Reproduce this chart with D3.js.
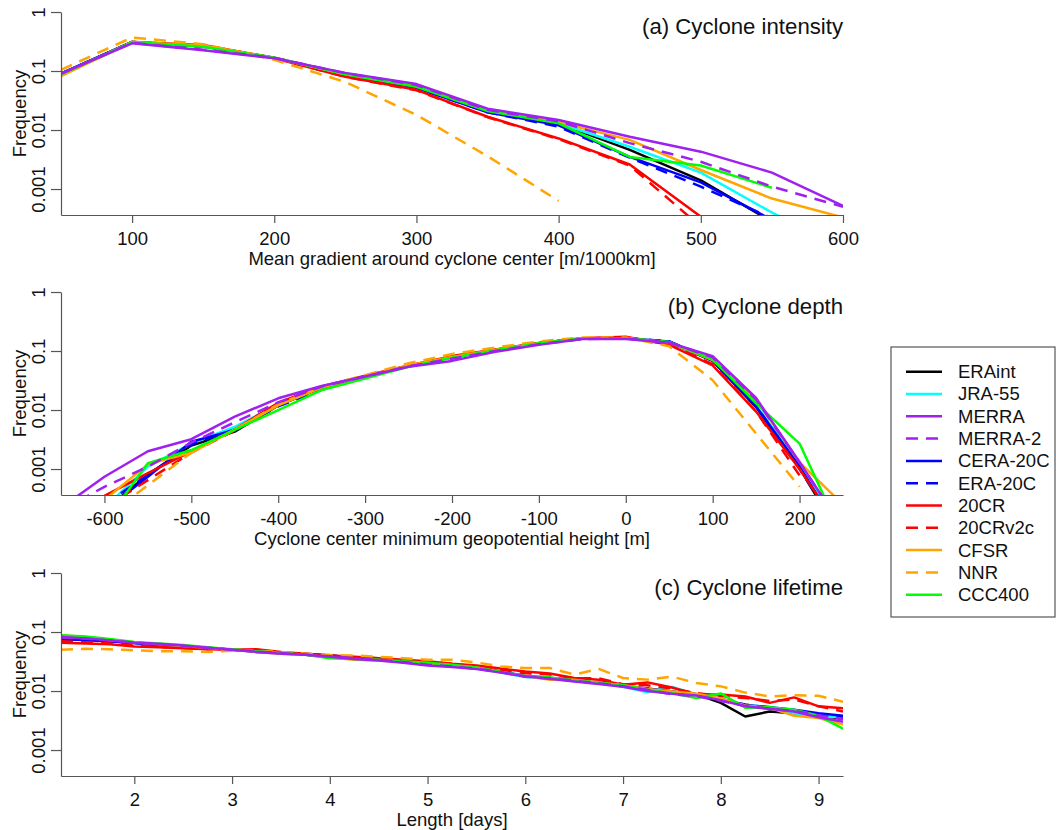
<!DOCTYPE html>
<html>
<head>
<meta charset="utf-8">
<script src="https://cdn.jsdelivr.net/npm/d3@7"></script>
<style>
body { margin: 0; background: #fff; }
svg text { font-family: "Liberation Sans", Arial, sans-serif; fill: #111; }
</style>
</head>
<body>
<div id="chart"></div>
<script>
var w = 1056;
var h = 830;
var left = 61;
var right = 843;
var panelH = 203;
var tops = [12, 292, 573];
var fontSize = "18.5px";

// datasets, same order as the legend
var names = ["ERAint", "JRA-55", "MERRA", "MERRA-2", "CERA-20C", "ERA-20C", "20CR", "20CRv2c", "CFSR", "NNR", "CCC400"];
var colors = ["#000000", "#00FFFF", "#A020F0", "#A020F0", "#0000FF", "#0000FF", "#FF0000", "#FF0000", "#FFA500", "#FFA500", "#00FF00"];
var dashed = [false, false, false, true, false, true, false, true, false, true, false];
var drawOrder = [0, 1, 4, 5, 6, 7, 8, 9, 10, 3, 2];

var yTicks = [1, 0.1, 0.01, 0.001];
var yTickLabels = ["1", "0.1", "0.01", "0.001"];

// (a) cyclone intensity
var gradient = [50, 100, 150, 200, 250, 300, 350, 400, 450, 500, 550, 600];
var gradientTicks = [100, 200, 300, 400, 500, 600];
var intensityFreq = [
  [0.09, 0.31, 0.265, 0.168, 0.088, 0.055, 0.021, 0.013, 0.0046, 0.0014, 0.00028, null],
  [0.09, 0.31, 0.265, 0.168, 0.088, 0.055, 0.022, 0.013, 0.0052, 0.0019, 0.0004, 0.0001],
  [0.09, 0.295, 0.225, 0.165, 0.093, 0.06, 0.023, 0.0148, 0.0077, 0.0043, 0.0019, 0.00052],
  [0.09, 0.30, 0.23, 0.167, 0.092, 0.058, 0.022, 0.014, 0.006, 0.0029, 0.0011, 0.0005],
  [0.09, 0.31, 0.26, 0.167, 0.087, 0.052, 0.020, 0.012, 0.0035, 0.0013, 0.0003, null],
  [0.09, 0.31, 0.26, 0.167, 0.086, 0.052, 0.020, 0.0114, 0.0034, 0.0011, 0.00032, null],
  [0.088, 0.31, 0.275, 0.165, 0.08, 0.048, 0.0168, 0.0072, 0.0026, 0.00034, null, null],
  [0.088, 0.31, 0.275, 0.165, 0.08, 0.047, 0.0165, 0.007, 0.0025, 0.00023, null, null],
  [0.082, 0.31, 0.27, 0.168, 0.088, 0.055, 0.022, 0.0135, 0.0068, 0.0021, 0.00069, 0.00033],
  [0.105, 0.37, 0.285, 0.155, 0.065, 0.018, 0.0036, 0.00063, null, null, null, null],
  [0.088, 0.31, 0.258, 0.168, 0.088, 0.054, 0.021, 0.013, 0.0035, 0.0025, 0.00105, null]
];

// (b) cyclone depth
var depth = [-650, -600, -550, -500, -450, -400, -350, -300, -250, -200, -150, -100, -50, 0, 50, 100, 150, 200, 250];
var depthTicks = [-600, -500, -400, -300, -200, -100, 0, 100, 200];
var depthFreq = [
  [null, 0.0002, 0.0008, 0.0025, 0.0043, 0.012, 0.024, 0.037, 0.056, 0.078, 0.104, 0.135, 0.162, 0.165, 0.14, 0.068, 0.0112, 0.00105, 0.00006],
  [null, 0.00022, 0.0011, 0.0027, 0.0052, 0.0125, 0.025, 0.037, 0.056, 0.078, 0.104, 0.135, 0.162, 0.165, 0.142, 0.07, 0.012, 0.0012, 0.00008],
  [0.00022, 0.00074, 0.002, 0.0032, 0.0077, 0.0158, 0.0256, 0.037, 0.054, 0.068, 0.097, 0.127, 0.16, 0.16, 0.138, 0.082, 0.016, 0.0013, 0.0001],
  [0.0002, 0.0005, 0.0011, 0.0028, 0.0062, 0.0135, 0.025, 0.037, 0.055, 0.074, 0.1, 0.13, 0.16, 0.162, 0.14, 0.078, 0.015, 0.0013, 0.0001],
  [null, 0.0002, 0.00074, 0.0029, 0.0046, 0.012, 0.024, 0.036, 0.056, 0.078, 0.104, 0.135, 0.163, 0.165, 0.145, 0.069, 0.0115, 0.0011, 0.00007],
  [null, 0.00025, 0.0008, 0.0026, 0.0047, 0.0115, 0.022, 0.036, 0.055, 0.078, 0.104, 0.135, 0.163, 0.165, 0.146, 0.07, 0.0118, 0.001, 0.00007],
  [null, 0.00035, 0.00085, 0.002, 0.0047, 0.0133, 0.025, 0.038, 0.057, 0.082, 0.106, 0.137, 0.165, 0.175, 0.127, 0.057, 0.0094, 0.001, 0.00008],
  [null, 0.00022, 0.00065, 0.0019, 0.0045, 0.0125, 0.024, 0.037, 0.056, 0.08, 0.105, 0.136, 0.164, 0.17, 0.13, 0.06, 0.0095, 0.00078, null],
  [null, 0.0003, 0.0012, 0.0019, 0.0047, 0.012, 0.024, 0.037, 0.057, 0.079, 0.105, 0.136, 0.165, 0.165, 0.14, 0.07, 0.015, 0.0013, 0.00025],
  [null, 0.00015, 0.00053, 0.0019, 0.0046, 0.0125, 0.025, 0.039, 0.062, 0.089, 0.115, 0.145, 0.17, 0.17, 0.12, 0.032, 0.004, 0.0005, null],
  [null, 0.00012, 0.00126, 0.0021, 0.0046, 0.01, 0.0218, 0.034, 0.054, 0.077, 0.103, 0.135, 0.163, 0.165, 0.142, 0.072, 0.013, 0.0027, 0.00007]
];

// (c) cyclone lifetime
var days = [1.25, 1.5, 1.75, 2, 2.25, 2.5, 2.75, 3, 3.25, 3.5, 3.75, 4, 4.25, 4.5, 4.75, 5, 5.25, 5.5, 5.75, 6, 6.25, 6.5, 6.75, 7, 7.25, 7.5, 7.75, 8, 8.25, 8.5, 8.75, 9, 9.25];
var dayTicks = [2, 3, 4, 5, 6, 7, 8, 9];
var lifetimeFreq = [
  [0.076, 0.074, 0.07, 0.065, 0.061, 0.057, 0.054, 0.050, 0.047, 0.044, 0.042, 0.040, 0.037, 0.035, 0.032, 0.029, 0.027, 0.0245, 0.021, 0.0178, 0.0165, 0.015, 0.0137, 0.0121, 0.0108, 0.0097, 0.0088, 0.0063, 0.0037, 0.0045, 0.0042, 0.0037, 0.0035],
  [0.080, 0.077, 0.072, 0.066, 0.062, 0.058, 0.054, 0.050, 0.047, 0.044, 0.041, 0.038, 0.036, 0.034, 0.032, 0.029, 0.027, 0.024, 0.0205, 0.0172, 0.0162, 0.0148, 0.0136, 0.0118, 0.0095, 0.0117, 0.0088, 0.0072, 0.0058, 0.0054, 0.0042, 0.0036, 0.0037],
  [0.082, 0.078, 0.072, 0.066, 0.063, 0.059, 0.054, 0.050, 0.046, 0.043, 0.041, 0.038, 0.035, 0.033, 0.030, 0.027, 0.0255, 0.0235, 0.0205, 0.0178, 0.0162, 0.0145, 0.0132, 0.0118, 0.0100, 0.0090, 0.0084, 0.0070, 0.0055, 0.0050, 0.0045, 0.0036, 0.0030],
  [0.081, 0.077, 0.072, 0.066, 0.062, 0.058, 0.054, 0.050, 0.047, 0.044, 0.041, 0.039, 0.036, 0.034, 0.031, 0.028, 0.026, 0.024, 0.021, 0.0175, 0.0163, 0.015, 0.0135, 0.012, 0.0105, 0.0088, 0.0082, 0.0068, 0.0056, 0.005, 0.0046, 0.0039, 0.0033],
  [0.075, 0.073, 0.070, 0.065, 0.061, 0.057, 0.053, 0.050, 0.046, 0.044, 0.043, 0.040, 0.037, 0.036, 0.033, 0.030, 0.027, 0.025, 0.0215, 0.018, 0.0168, 0.015, 0.0137, 0.0124, 0.011, 0.0098, 0.0088, 0.0074, 0.0058, 0.0053, 0.0048, 0.0042, 0.0038],
  [0.077, 0.074, 0.070, 0.065, 0.061, 0.057, 0.053, 0.050, 0.047, 0.044, 0.042, 0.040, 0.037, 0.035, 0.032, 0.029, 0.027, 0.025, 0.021, 0.0177, 0.0165, 0.0152, 0.0138, 0.0122, 0.0108, 0.0096, 0.0087, 0.0072, 0.0059, 0.0052, 0.0047, 0.0041, 0.0037],
  [0.066, 0.064, 0.062, 0.057, 0.055, 0.053, 0.051, 0.050, 0.051, 0.046, 0.043, 0.040, 0.038, 0.036, 0.034, 0.032, 0.029, 0.027, 0.024, 0.0215, 0.0198, 0.0166, 0.0155, 0.0128, 0.014, 0.0115, 0.0087, 0.0087, 0.0081, 0.0063, 0.0078, 0.0055, 0.0051],
  [0.070, 0.067, 0.064, 0.059, 0.056, 0.054, 0.051, 0.050, 0.049, 0.045, 0.042, 0.040, 0.038, 0.036, 0.033, 0.031, 0.029, 0.026, 0.023, 0.020, 0.019, 0.0165, 0.0165, 0.013, 0.0125, 0.011, 0.0092, 0.0082, 0.0076, 0.0068, 0.0072, 0.0055, 0.0045],
  [0.088, 0.082, 0.074, 0.067, 0.062, 0.058, 0.054, 0.050, 0.046, 0.043, 0.041, 0.037, 0.034, 0.033, 0.031, 0.029, 0.027, 0.025, 0.021, 0.018, 0.0155, 0.0155, 0.0138, 0.0125, 0.0108, 0.0098, 0.009, 0.0075, 0.0057, 0.0052, 0.0038, 0.0035, 0.0027],
  [0.050, 0.052, 0.051, 0.049, 0.047, 0.047, 0.046, 0.048, 0.048, 0.046, 0.043, 0.041, 0.040, 0.038, 0.036, 0.034, 0.034, 0.0305, 0.026, 0.0245, 0.0245, 0.019, 0.0237, 0.0166, 0.0156, 0.0175, 0.0137, 0.012, 0.0094, 0.0081, 0.0085, 0.0083, 0.0066],
  [0.088, 0.084, 0.076, 0.068, 0.064, 0.06, 0.055, 0.051, 0.047, 0.044, 0.041, 0.036, 0.035, 0.034, 0.032, 0.030, 0.028, 0.025, 0.021, 0.018, 0.017, 0.0152, 0.0138, 0.0125, 0.0105, 0.0092, 0.0076, 0.0091, 0.0052, 0.0053, 0.0048, 0.0038, 0.0023]
];

var panels = [
  { title: "(a) Cyclone intensity", xlab: "Mean gradient around cyclone center [m/1000km]", xs: gradient, ys: intensityFreq, dom: [50, 600], ticks: gradientTicks },
  { title: "(b) Cyclone depth", xlab: "Cyclone center minimum geopotential height [m]", xs: depth, ys: depthFreq, dom: [-650, 250], ticks: depthTicks },
  { title: "(c) Cyclone lifetime", xlab: "Length [days]", xs: days, ys: lifetimeFreq, dom: [1.25, 9.25], ticks: dayTicks }
];

var svg = d3.select("#chart")
            .append("svg")
            .attr("width", w)
            .attr("height", h);

panels.forEach(function(p, k) {
  var top = tops[k];
  var x = d3.scaleLinear().domain(p.dom).range([left, right]);
  var y = d3.scaleLog().domain([Math.pow(10, -3.44), 1]).range([top + panelH, top]);

  svg.append("clipPath")
     .attr("id", "clip" + k)
     .append("rect")
     .attr("x", left)
     .attr("y", top)
     .attr("width", right - left)
     .attr("height", panelH);

  var line = d3.line()
               .defined(function(d) { return d[1] != null; })
               .x(function(d) { return x(d[0]); })
               .y(function(d) { return y(d[1]); });

  var g = svg.append("g").attr("clip-path", "url(#clip" + k + ")");
  drawOrder.forEach(function(i) {
    var pts = p.xs.map(function(v, j) { return [v, p.ys[i][j]]; });
    g.append("path")
     .attr("d", line(pts))
     .attr("fill", "none")
     .attr("stroke", colors[i])
     .attr("stroke-width", 2.5)
     .attr("stroke-linejoin", "round")
     .attr("stroke-dasharray", dashed[i] ? "12,8" : null);
  });

  // x axis, plain hyphen for negatives
  var xa = svg.append("g")
              .attr("transform", "translate(0," + (top + panelH) + ")")
              .call(d3.axisBottom(x).tickValues(p.ticks).tickSize(8).tickSizeOuter(0).tickPadding(9)
                      .tickFormat(function(d) { return String(d); }));
  xa.selectAll("text").style("font-size", fontSize).attr("fill", "#111");

  // y axis, labels turned like R does
  var ya = svg.append("g")
              .attr("transform", "translate(" + left + ",0)")
              .call(d3.axisLeft(y).tickValues(yTicks).tickSize(10).tickSizeOuter(0)
                      .tickFormat(function(d, i) { return yTickLabels[i]; }));
  ya.selectAll("text")
    .attr("transform", "rotate(-90)")
    .attr("x", 0)
    .attr("y", -16)
    .attr("dy", 0)
    .attr("text-anchor", "middle")
    .style("font-size", fontSize)
    .attr("fill", "#111");

  svg.selectAll(".domain, .tick line").attr("stroke", "#555").attr("stroke-width", 1.2);

  svg.append("text")
     .attr("x", right)
     .attr("y", top + 21.5)
     .attr("text-anchor", "end")
     .style("font-size", "22.2px")
     .text(p.title);

  svg.append("text")
     .attr("x", (left + right) / 2)
     .attr("y", top + panelH + 50)
     .attr("text-anchor", "middle")
     .style("font-size", fontSize)
     .text(p.xlab);

  svg.append("text")
     .attr("transform", "translate(26," + (top + panelH / 2) + ") rotate(-90)")
     .attr("text-anchor", "middle")
     .style("font-size", fontSize)
     .text("Frequency");
});

// legend
var lg = svg.append("g");
lg.append("rect")
  .attr("x", 891)
  .attr("y", 347)
  .attr("width", 164)
  .attr("height", 270)
  .attr("fill", "none")
  .attr("stroke", "#555")
  .attr("stroke-width", 1.2);

names.forEach(function(n, i) {
  var ly = 371.7 + i * 22.3;
  lg.append("line")
    .attr("x1", 906)
    .attr("x2", 942)
    .attr("y1", ly)
    .attr("y2", ly)
    .attr("stroke", colors[i])
    .attr("stroke-width", 2.5)
    .attr("stroke-dasharray", dashed[i] ? "12,8" : null);
  lg.append("text")
    .attr("x", 958)
    .attr("y", ly)
    .attr("dy", "0.35em")
    .style("font-size", fontSize)
    .text(n);
});
</script>
</body>
</html>
